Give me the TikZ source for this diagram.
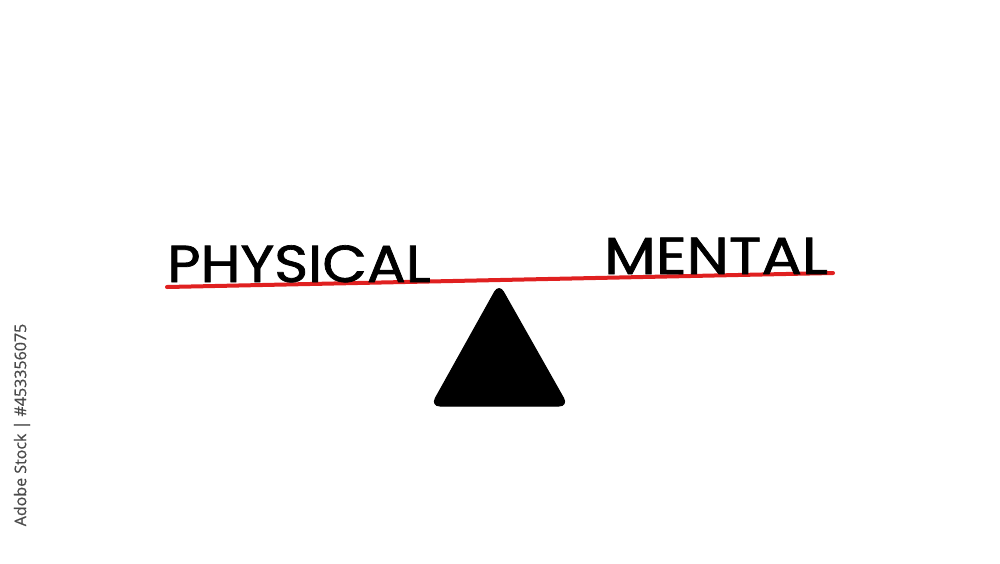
\documentclass[tikz,border=0pt]{standalone}
\usepackage{fontspec}
\setmainfont{Poppins}[FakeBold=1.3]
\newfontfamily\labelfont{Poppins}[FakeBold=1.3]
\newfontfamily\wmfont{Open Sans}[FakeBold=0.6]
\definecolor{beamred}{HTML}{E02020}
\definecolor{wmgray}{HTML}{4A4A4A}
\tikzset{
  label text/.style={anchor=base west, inner sep=0pt, font=\labelfont\fontsize{52}{60}\selectfont, text=black},
  beam/.style={draw=beamred, line width=4pt, line cap=round},
  fulcrum/.style={fill=black, draw=black, line width=1pt, rounded corners=9pt},
  watermark/.style={rotate=90, anchor=center, inner sep=0pt, text=wmgray, font=\wmfont\fontsize{16}{20}\selectfont}
}
\begin{document}
\begin{tikzpicture}[x=1pt,y=-1pt]
\useasboundingbox (0,0) rectangle (1000,563);
\fill[white] (0,0) rectangle (1000,563);
% fulcrum
\coordinate (apex) at (499,284);
\coordinate (bl) at (431,406);
\coordinate (br) at (568,406);
\path[fulcrum] (apex) -- (br) -- (bl) -- cycle;
% beam
\coordinate (beamL) at (167,287);
\coordinate (beamR) at (833,273);
\draw[beam] (beamL) -- (beamR);
% labels
\node[label text] (physical) at (167,282) {\scalebox{1.11}[1.0]{PHYSICAL}};
\node[label text] (mental) at (604,274) {\scalebox{1.155}[1.0]{MENTAL}};
% side text
\node[watermark] (stock) at (22,425) {Adobe Stock | \#453356075};
\end{tikzpicture}
\end{document}
